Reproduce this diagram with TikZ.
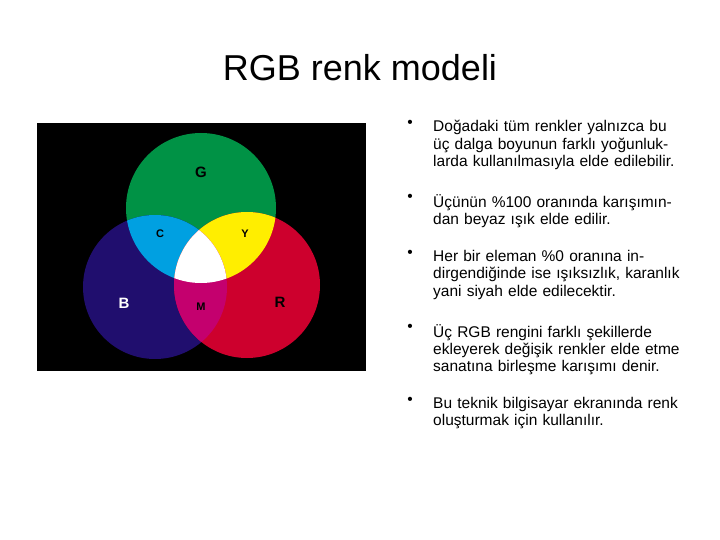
\documentclass[tikz,border=0pt]{standalone}
\usepackage{fontspec}
\setmainfont{Liberation Sans}
\begin{document}
\begin{tikzpicture}[x=1pt,y=-1pt,
  lbl/.style={font=\bfseries\fontsize{15}{15}\selectfont,inner sep=0},
  item/.style={anchor=north west,text width=250pt,align=left,inner sep=0,font=\fontsize{15.5}{17.4}\selectfont},
  bul/.style={anchor=north,inner sep=0,font=\fontsize{15.5}{17.4}\selectfont}]
\definecolor{colG}{RGB}{0,146,69}
\definecolor{colB}{RGB}{32,14,110}
\definecolor{colR}{RGB}{205,0,45}
\definecolor{colC}{RGB}{0,160,225}
\definecolor{colY}{RGB}{255,238,0}
\definecolor{colM}{RGB}{196,0,110}
\useasboundingbox (0,0) rectangle (720,540);
\node[font=\fontsize{36}{36}\selectfont] (title) at (360,68) {RGB renk modeli};
\fill[black] (37,123) rectangle (366,371);
\def\G{(201,208) circle (75)}
\def\B{(155,287) circle (72)}
\def\R{(247,285) circle (73)}
\fill[colG] \G; \fill[colB] \B; \fill[colR] \R;
\begin{scope}\clip \G; \fill[colC] \B; \end{scope}
\begin{scope}\clip \G; \fill[colY] \R; \end{scope}
\begin{scope}\clip \B; \fill[colM] \R; \end{scope}
\begin{scope}\clip \G; \clip \B; \fill[white] \R; \end{scope}
\node[lbl] (g) at (201,172) {G};
\node[lbl,font=\bfseries\fontsize{11}{11}\selectfont] (c) at (160,234) {C};
\node[lbl,font=\bfseries\fontsize{11}{11}\selectfont] (y) at (245,234) {Y};
\node[lbl,white] (b) at (124,303) {B};
\node[lbl,font=\bfseries\fontsize{11}{11}\selectfont] (m) at (201,307) {M};
\node[lbl] (r) at (280,302) {R};
\foreach \yy/\t [count=\i] in {120/{Doğadaki tüm renkler yalnızca bu üç dalga boyunun farklı yoğunluklarda kullanılmasıyla elde edilebilir.},
  194/{Üçünün \%100 oranında karışımından beyaz ışık elde edilir.},
  250/{Her bir eleman \%0 oranına indirgendiğinde ise ışıksızlık, karanlık yani siyah elde edilecektir.},
  324/{Üç RGB rengini farklı şekillerde ekleyerek değişik renkler elde etme sanatına birleşme karışımı denir.},
  397/{Bu teknik bilgisayar ekranında renk oluşturmak için kullanılır.}}{
  \node[bul] (b\i) at (410,\yy) {•};
  \node[item] (t\i) at (433,\yy) {\t};
}
\end{tikzpicture}
\end{document}
